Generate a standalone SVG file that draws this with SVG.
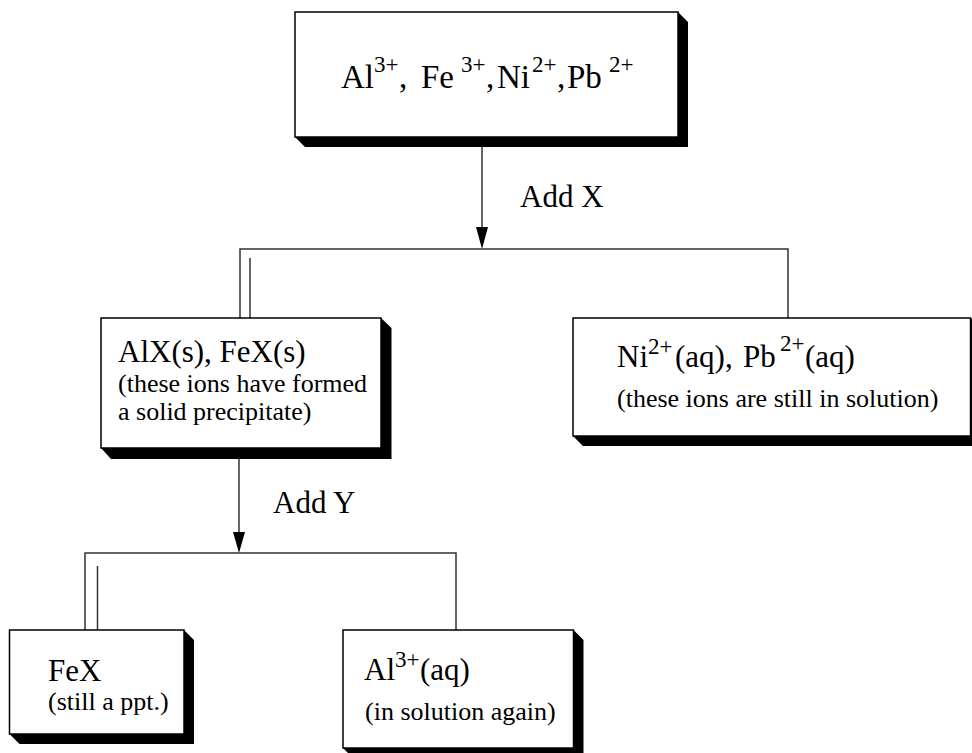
<svg xmlns="http://www.w3.org/2000/svg" width="972" height="753" viewBox="0 0 972 753">
<style>
.box{fill:#fff;stroke:#000;stroke-width:1.5}
.sh{fill:#000}
.ln{stroke:#333;stroke-width:1.5;fill:none}
.ah{fill:#000}
text{font-family:"Liberation Serif","Times New Roman",serif;fill:#000}
.t{font-size:33px}
.m{font-size:31px}
.s{font-size:26px}
.sup{font-size:23px}
</style>
<rect width="972" height="753" fill="#fff"/>
<g id="connectors">
<line class="ln" x1="482" y1="147" x2="482" y2="240"/>
<polygon class="ah" points="476,227 488,227 482,249"/>
<polyline class="ln" points="240,318 240,249 788,249 788,318"/>
<line class="ln" x1="250" y1="258" x2="250" y2="318"/>
<line class="ln" x1="239" y1="459" x2="239" y2="545"/>
<polygon class="ah" points="233,532 245,532 239,553"/>
<polyline class="ln" points="85,630 85,553 456,553 456,630"/>
<line class="ln" x1="97.5" y1="566" x2="97.5" y2="630"/>
</g>
<g id="label-add-x"><text class="m" x="520" y="207">Add X</text></g>
<g id="label-add-y"><text class="m" x="273" y="513">Add Y</text></g>
<g id="node-start">
<polygon class="sh" points="295,137 305,147 688,147 688,22 678,12 678,137"/>
<rect class="box" x="295" y="12" width="383" height="125"/>
<text class="t" y="88"><tspan x="341">Al</tspan><tspan class="sup" x="374" y="72">3+</tspan><tspan x="399" y="88">,</tspan><tspan x="421">Fe</tspan><tspan class="sup" x="461" y="72">3+</tspan><tspan x="486" y="88">,</tspan><tspan x="497">Ni</tspan><tspan class="sup" x="532" y="72">2+</tspan><tspan x="557" y="88">,</tspan><tspan x="567">Pb</tspan><tspan class="sup" x="609" y="72">2+</tspan></text>
</g>
<g id="node-precipitate">
<polygon class="sh" points="101,448 111,459 391.5,459 391.5,328 381,318 381,448"/>
<rect class="box" x="101" y="318" width="280" height="130"/>
<text class="m" x="118" y="362">AlX(s), FeX(s)</text>
<text class="s" x="118" y="392">(these ions have formed</text>
<text class="s" x="118" y="420">a solid precipitate)</text>
</g>
<g id="node-solution">
<polygon class="sh" points="573,436 583,446 981,446 981,328 971,318 971,436"/>
<rect class="box" x="573" y="318" width="397.5" height="118"/>
<text class="m" y="367"><tspan x="617">Ni</tspan><tspan class="sup" x="648" y="354">2+</tspan><tspan x="675" y="367">(aq),</tspan><tspan x="743">Pb</tspan><tspan class="sup" x="780" y="351">2+</tspan><tspan x="805" y="367">(aq)</tspan></text>
<text class="s" x="617" y="407">(these ions are still in solution)</text>
</g>
<g id="node-fex">
<polygon class="sh" points="9.5,734 19.5,744 194,744 194,640 184,630 184,734"/>
<rect class="box" x="9.5" y="630" width="174.5" height="104"/>
<text class="m" x="48" y="681">FeX</text>
<text class="s" x="48" y="710">(still a ppt.)</text>
</g>
<g id="node-al">
<polygon class="sh" points="343,748 353,758 583.5,758 583.5,640 573.5,630 573.5,748"/>
<rect class="box" x="343" y="630" width="230.5" height="118"/>
<text class="m" y="680"><tspan x="364">Al</tspan><tspan class="sup" x="395" y="667">3+</tspan><tspan x="420" y="680">(aq)</tspan></text>
<text class="s" x="365" y="720">(in solution again)</text>
</g>
</svg>
